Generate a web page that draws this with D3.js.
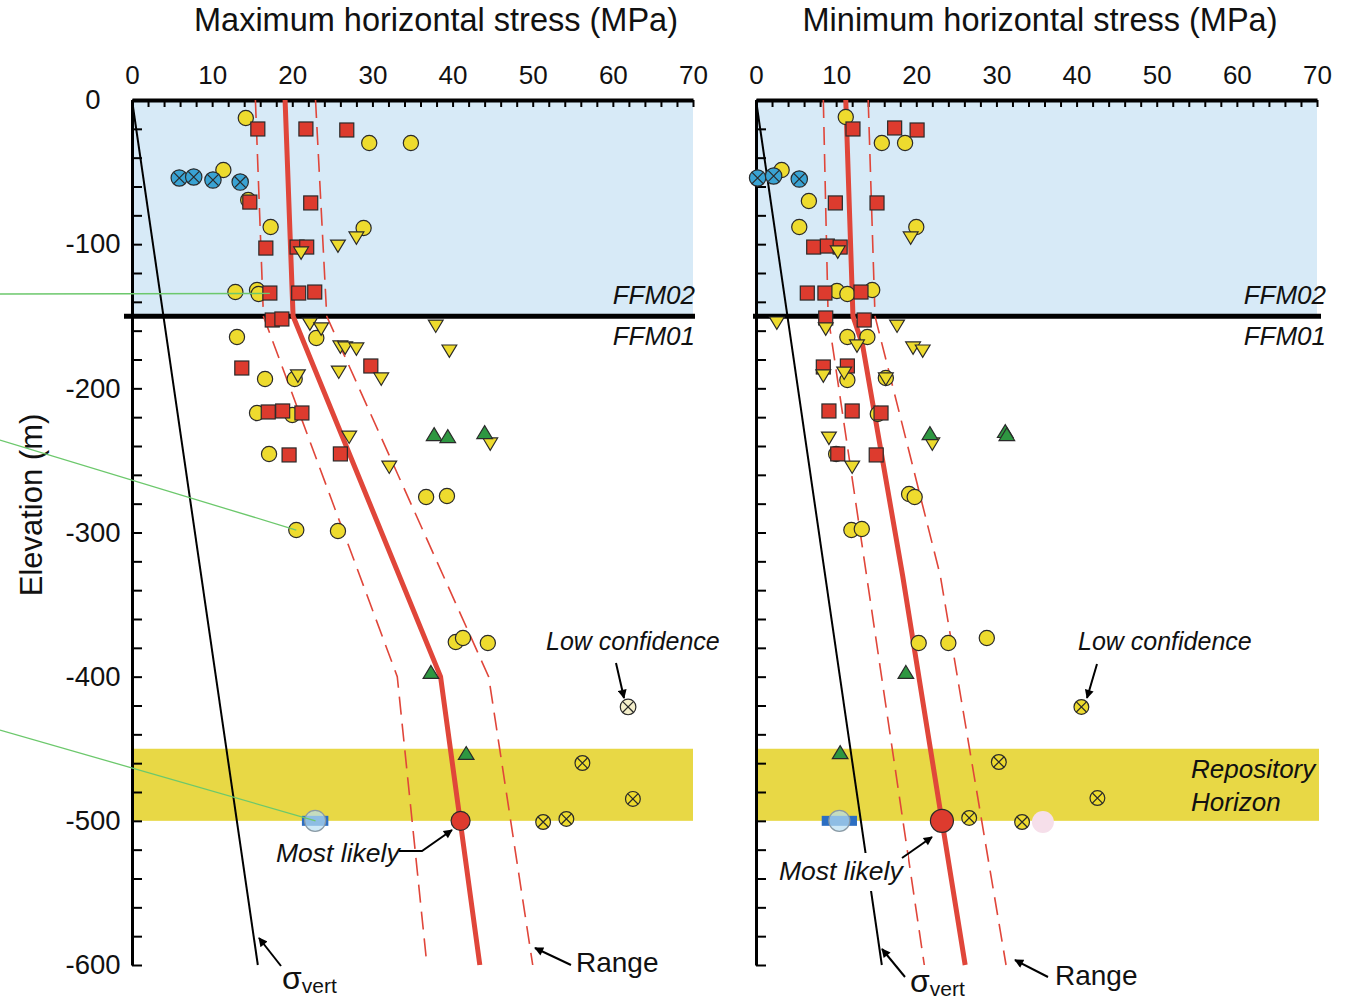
<!DOCTYPE html>
<html><head><meta charset="utf-8">
<script src="https://cdn.jsdelivr.net/npm/d3@7"></script>
<style>
html,body{margin:0;padding:0;background:#fff;}
svg{display:block;font-family:"Liberation Sans",Arial,Helvetica,sans-serif;}
</style></head><body>
<svg id="chart" width="1349" height="1000"></svg>
<script>
// ---------------- data ----------------
const stressTickLabels = [0, 10, 20, 30, 40, 50, 60, 70];
const elevationTickLabels = [0, -100, -200, -300, -400, -500, -600];
const formationBoundary = -150;          // FFM02 / FFM01 contact
const repositoryHorizon = [-450, -500];  // elevation band (m)
const sigmaVert = [[0, 0], [15.7, -600]];

// Maximum horizontal stress  [MPa, elevation m]
const maxMostLikely = [[19.1, 0], [20.1, -150], [38.5, -400], [43.4, -600]];
const maxRangeLow   = [[15.4, 0], [16.4, -150], [33.1, -400], [36.8, -600]];
const maxRangeHigh  = [[22.9, 0], [24.3, -150], [44.5, -400], [50.0, -600]];
const maxBestEstimate = [41.0, -500];
const maxHydraulicBar = [21.2, 24.5, -500];
const maxYellowCircles = [
  [14.2, -12.5], [29.6, -29.8], [34.8, -29.8], [11.4, -48.6], [14.5, -69.4],
  [17.3, -88.1], [28.9, -88.8], [12.9, -133.2], [15.6, -131.8], [15.8, -134.6],
  [13.1, -164.4], [23.0, -165.1], [16.6, -193.5], [20.3, -193.5], [15.6, -217.1],
  [20.0, -218.5], [17.1, -245.5], [36.7, -275.4], [39.3, -274.7], [20.5, -298.3],
  [25.7, -299.0], [40.4, -376.0], [41.3, -373.2], [44.4, -376.6]
];
const maxRedSquares = [
  [15.7, -20.1], [21.7, -20.1], [26.8, -20.8], [14.7, -70.8], [22.3, -71.4],
  [16.7, -102.7], [20.6, -102.0], [21.8, -102.0], [17.2, -133.9], [20.8, -133.9],
  [22.8, -133.2], [17.5, -152.6], [18.7, -151.9], [13.7, -185.9], [29.8, -184.5],
  [17.0, -216.4], [18.8, -215.7], [21.2, -217.1], [19.6, -246.2], [26.0, -245.5]
];
const maxYellowTriangles = [
  [28.0, -95.0], [25.7, -100.6], [21.1, -105.4], [22.2, -154.7], [23.6, -158.1],
  [37.9, -156.1], [26.0, -170.6], [26.6, -171.3], [28.0, -172.0], [39.6, -173.4],
  [25.8, -188.0], [31.1, -192.8], [20.7, -190.7], [27.1, -233.1], [44.7, -237.9],
  [32.1, -253.9]
];
const maxGreenTriangles = [[37.7, -232.4], [39.4, -233.8], [44.0, -231.0], [37.3, -397.4], [41.7, -453.6]];
const maxBlueCrossed = [[5.9, -54.1], [7.7, -53.4], [10.1, -55.5], [13.5, -56.9]];
const maxLowConfidence = [[56.2, -459.9], [62.5, -484.8], [51.3, -500.8], [54.2, -498.7]];
const maxPaleCrossed = [[61.9, -421.0]];
const maxFaint = [];

// Minimum horizontal stress  [MPa, elevation m]
const minMostLikely = [[11.2, 0], [12.1, -150], [13.3, -170], [18.3, -330], [23.2, -500], [26.1, -600]];
const minRangeLow   = [[8.4, 0], [9.0, -150], [21.0, -600]];
const minRangeHigh  = [[14.0, 0], [14.85, -150], [23.0, -330], [31.2, -600]];
const minBestEstimate = [23.2, -500];
const minHydraulicBar = [8.2, 12.6, -500];
const minYellowCircles = [
  [11.2, -11.8], [15.7, -29.8], [18.6, -29.8], [3.2, -48.6], [6.6, -70.1],
  [5.4, -88.1], [20.0, -88.1], [10.1, -132.5], [11.4, -134.6], [14.5, -131.8],
  [11.4, -164.4], [13.9, -164.4], [11.4, -194.2], [16.2, -192.8], [15.2, -217.8],
  [10.0, -245.5], [19.1, -273.3], [19.8, -275.4], [11.9, -298.3], [13.2, -297.6],
  [20.3, -376.6], [24.0, -376.6], [28.8, -373.2]
];
const minRedSquares = [
  [12.1, -20.1], [17.3, -19.4], [20.1, -20.8], [9.9, -71.4], [15.1, -71.4],
  [7.2, -102.0], [8.9, -101.3], [10.5, -102.0], [6.4, -133.9], [8.6, -133.9],
  [13.1, -133.2], [8.7, -151.2], [13.5, -152.6], [8.4, -185.2], [11.4, -184.5],
  [9.1, -215.7], [12.0, -215.7], [15.6, -217.1], [10.2, -245.5], [15.0, -246.2]
];
const minYellowTriangles = [
  [19.3, -95.0], [10.2, -104.7], [2.6, -154.0], [8.7, -158.1], [17.6, -156.1],
  [12.6, -169.9], [19.6, -171.3], [20.8, -173.4], [8.4, -190.7], [11.0, -188.7],
  [16.2, -192.8], [9.1, -233.8], [22.0, -237.9], [12.0, -253.9]
];
const minGreenTriangles = [[21.7, -231.7], [31.1, -230.3], [31.3, -232.4], [18.7, -397.4], [10.5, -453.0]];
const minBlueCrossed = [[0.2, -54.1], [2.2, -52.7], [5.4, -54.8]];
const minLowConfidence = [[30.3, -459.2], [42.6, -484.2], [26.6, -498.0], [33.2, -500.8], [40.6, -421.0]];
const minPaleCrossed = [];
const minFaint = [[35.8, -500.8]];

// ---------------- colours ----------------
const C = {
  band: "#d7eaf7", repo: "#e8d845", yellow: "#eedb2e", red: "#dd3b2e",
  green: "#2e9741", blue: "#3aa3d3", line: "#e0463a", ink: "#1a1a1a",
  pale: "#f4efcb", faint: "#f6dfea", bar: "#2c6ec2", halo: "#b8def2", callout: "#6cc86c"
};

const svg = d3.select("#chart");
const y = d3.scaleLinear().domain([0, -600]).range([100, 965]);

const defs = svg.append("defs");
defs.append("marker").attr("id", "arrow").attr("viewBox", "0 0 10 10")
  .attr("refX", 9).attr("refY", 5).attr("markerWidth", 11).attr("markerHeight", 9)
  .attr("markerUnits", "userSpaceOnUse").attr("orient", "auto")
  .append("path").attr("d", "M0,0L10,5L0,10z").attr("fill", "#000");

const panels = [
  {
    x: d3.scaleLinear().domain([0, 70]).range([132, 693]),
    title: "Maximum horizontal stress (MPa)", titleX: 436, labels: true,
    mostLikely: maxMostLikely, low: maxRangeLow, high: maxRangeHigh, best: maxBestEstimate, bestR: 9.5,
    bar: maxHydraulicBar, circles: maxYellowCircles, squares: maxRedSquares, downTri: maxYellowTriangles,
    upTri: maxGreenTriangles, blueX: maxBlueCrossed, lowConf: maxLowConfidence, paleX: maxPaleCrossed, faint: maxFaint,
    ffmX: 695, lineExt: [124, 695]
  },
  {
    x: d3.scaleLinear().domain([0, 70]).range([756, 1317]),
    title: "Minimum horizontal stress (MPa)", titleX: 1040, labels: false,
    mostLikely: minMostLikely, low: minRangeLow, high: minRangeHigh, best: minBestEstimate, bestR: 11.5,
    bar: minHydraulicBar, circles: minYellowCircles, squares: minRedSquares, downTri: minYellowTriangles,
    upTri: minGreenTriangles, blueX: minBlueCrossed, lowConf: minLowConfidence, paleX: minPaleCrossed, faint: minFaint,
    ffmX: 1326, lineExt: [753, 1321]
  }
];

const line = (x) => d3.line().x(d => x(d[0])).y(d => y(d[1]));

panels.forEach(p => {
  const x = p.x;
  const g = svg.append("g");
  const [x0, x1] = x.range();

  // formation and repository bands
  g.append("rect").attr("x", x0).attr("y", y(0)).attr("width", x1 - x0)
    .attr("height", y(formationBoundary) - y(0)).attr("fill", C.band);
  g.append("rect").attr("x", x0).attr("y", y(repositoryHorizon[0])).attr("width", x1 - x0 + (p.labels ? 0 : 2))
    .attr("height", y(repositoryHorizon[1]) - y(repositoryHorizon[0])).attr("fill", C.repo);

  // title
  svg.append("text").attr("x", p.titleX).attr("y", 31).attr("text-anchor", "middle")
    .attr("font-size", 32.5).attr("fill", "#111").text(p.title);

  // top stress axis: minor ticks every 2 MPa pointing inward
  const xAxis = d3.axisTop(x).tickValues(d3.range(0, 71, 2))
    .tickFormat(d => stressTickLabels.includes(d) ? String(d) : "")
    .tickSizeInner(-7).tickSizeOuter(0).tickPadding(16);
  const ax = g.append("g").attr("transform", `translate(0,${y(0)})`).call(xAxis);
  ax.select(".domain").attr("stroke", "#000").attr("stroke-width", 4);
  ax.selectAll(".tick line").attr("stroke", "#000").attr("stroke-width", 2);
  ax.selectAll(".tick text").attr("font-size", 26).attr("fill", "#111")
    .attr("font-family", '"Liberation Sans",Arial,sans-serif');

  // elevation axis: ticks every 20 m pointing inward
  const yAxis = d3.axisLeft(y).tickValues(d3.range(0, -601, -20))
    .tickFormat(d => (p.labels && elevationTickLabels.includes(d)) ? String(d) : "")
    .tickSizeInner(-10).tickSizeOuter(0).tickPadding(0);
  const ay = g.append("g").attr("transform", `translate(${x0},0)`).call(yAxis);
  ay.select(".domain").attr("stroke", "#000").attr("stroke-width", 3);
  ay.selectAll(".tick line").attr("stroke", "#000").attr("stroke-width", 2);
  ay.selectAll(".tick text").attr("font-size", 27.5).attr("fill", "#111")
    .attr("text-anchor", "middle").attr("x", -39)
    .attr("font-family", '"Liberation Sans",Arial,sans-serif');

  // formation boundary
  g.append("line").attr("x1", p.lineExt[0]).attr("x2", p.lineExt[1])
    .attr("y1", y(formationBoundary)).attr("y2", y(formationBoundary))
    .attr("stroke", "#000").attr("stroke-width", 5);
  g.append("text").attr("x", p.ffmX).attr("y", y(formationBoundary) - 12).attr("text-anchor", "end")
    .attr("font-size", 26).attr("font-style", "italic").attr("fill", "#111").text("FFM02");
  g.append("text").attr("x", p.ffmX).attr("y", y(formationBoundary) + 29).attr("text-anchor", "end")
    .attr("font-size", 26).attr("font-style", "italic").attr("fill", "#111").text("FFM01");

  // vertical stress
  g.append("path").attr("d", line(x)(sigmaVert)).attr("fill", "none")
    .attr("stroke", "#000").attr("stroke-width", 2);

  // range and most likely profiles
  [p.low, p.high].forEach(r => g.append("path").attr("d", line(x)(r)).attr("fill", "none")
    .attr("stroke", C.line).attr("stroke-width", 1.6).attr("stroke-dasharray", "18,9"));
  g.append("path").attr("d", line(x)(p.mostLikely)).attr("fill", "none")
    .attr("stroke", C.line).attr("stroke-width", 5);

  const at = sel => sel.attr("transform", d => `translate(${x(d[0])},${y(d[1])})`);
  const stroke = sel => sel.attr("stroke", "#2a2a2a").attr("stroke-width", 1.2);

  // hydraulic estimate bar with halo
  const b = p.bar;
  g.append("rect").attr("x", x(b[0])).attr("y", y(b[2]) - 5).attr("width", x(b[1]) - x(b[0]))
    .attr("height", 10).attr("fill", C.bar);
  g.append("circle").attr("cx", x((b[0] + b[1]) / 2)).attr("cy", y(b[2])).attr("r", 10.5)
    .attr("fill", C.halo).attr("fill-opacity", 0.7).attr("stroke", "#8a9aa5").attr("stroke-width", 1.2);

  // faint markers
  g.selectAll(null).data(p.faint).enter().append("circle").call(at).attr("r", 11).attr("fill", C.faint);

  // yellow circles
  g.selectAll(null).data(p.circles).enter().append("circle").call(at).call(stroke)
    .attr("r", 7.6).attr("fill", C.yellow);

  // red squares
  g.selectAll(null).data(p.squares).enter().append("rect").call(at).call(stroke)
    .attr("x", -7).attr("y", -7).attr("width", 14).attr("height", 14).attr("fill", C.red);

  // inverted yellow triangles
  g.selectAll(null).data(p.downTri).enter().append("path").call(at).call(stroke)
    .attr("d", "M-7.4,-5L7.4,-5L0,7.4Z").attr("fill", C.yellow);

  // green triangles
  g.selectAll(null).data(p.upTri).enter().append("path").call(at).call(stroke)
    .attr("d", "M0,-7.4L7.8,5.5L-7.8,5.5Z").attr("fill", C.green);

  // crossed circles
  const crossed = (data, fill, r) => {
    const s = g.selectAll(null).data(data).enter().append("g").call(at);
    s.append("circle").attr("r", r).attr("fill", fill).call(stroke);
    const k = r * 0.68;
    s.append("path").attr("d", `M${-k},${-k}L${k},${k}M${-k},${k}L${k},${-k}`).call(stroke);
  };
  crossed(p.blueX, C.blue, 8.2);
  crossed(p.lowConf, C.yellow, 7.4);
  crossed(p.paleX, C.pale, 7.8);

  // most likely value at the repository level
  g.append("circle").attr("cx", x(p.best[0])).attr("cy", y(p.best[1])).attr("r", p.bestR)
    .attr("fill", C.red).call(stroke);
});

// ---------------- annotations ----------------
const [L, R] = [panels[0].x, panels[1].x];
const ann = svg.append("g");
const txt = (x, yy, s, size, italic) => ann.append("text").attr("x", x).attr("y", yy)
  .attr("font-size", size).attr("font-style", italic ? "italic" : "normal").attr("fill", "#111").text(s);
const arrow = pts => ann.append("path").attr("d", d3.line()(pts)).attr("fill", "none")
  .attr("stroke", "#000").attr("stroke-width", 2).attr("marker-end", "url(#arrow)");

// elevation axis title
ann.append("text").attr("transform", "translate(42,505) rotate(-90)").attr("text-anchor", "middle")
  .attr("font-size", 31).attr("fill", "#111").text("Elevation (m)");

// callout leaders
ann.append("line").attr("x1", 0).attr("y1", 294).attr("x2", L(17.2)).attr("y2", y(-134.2))
  .attr("stroke", C.callout).attr("stroke-width", 1.3);
ann.append("line").attr("x1", 0).attr("y1", 440).attr("x2", L(20.5)).attr("y2", y(-298.3))
  .attr("stroke", C.callout).attr("stroke-width", 1.3);
ann.append("line").attr("x1", 0).attr("y1", 730).attr("x2", L(22.9)).attr("y2", y(-500))
  .attr("stroke", C.callout).attr("stroke-width", 1.3);

// low confidence
txt(546, 650, "Low confidence", 25, true);
arrow([[616, 663], [624, 698]]);
txt(1078, 650, "Low confidence", 25, true);
arrow([[1097, 664], [1087, 698]]);

// repository horizon
txt(1191, 778, "Repository", 26, true);
txt(1191, 811, "Horizon", 26, true);

// most likely
txt(276, 862, "Most likely", 26.5, true);
arrow([[399, 851], [422, 851], [452, 830]]);
ann.append("rect").attr("x", 776).attr("y", 853).attr("width", 132).attr("height", 38).attr("fill", "#fff");
txt(779, 880, "Most likely", 26.5, true);
arrow([[902, 858], [932, 837]]);

// range
txt(576, 972, "Range", 28, false);
arrow([[571, 965], [535, 948]]);
txt(1055, 985, "Range", 28, false);
arrow([[1048, 977], [1015, 960]]);

// vertical stress
const sv = (x, yy) => {
  const t = ann.append("text").attr("x", x).attr("y", yy).attr("fill", "#111");
  t.append("tspan").attr("font-size", 32).text("σ");
  t.append("tspan").attr("font-size", 21).attr("dy", 4).text("vert");
};
sv(282, 989);
arrow([[281, 966], [259, 938]]);
sv(910, 992);
arrow([[905, 977], [882, 949]]);
</script>
</body></html>
